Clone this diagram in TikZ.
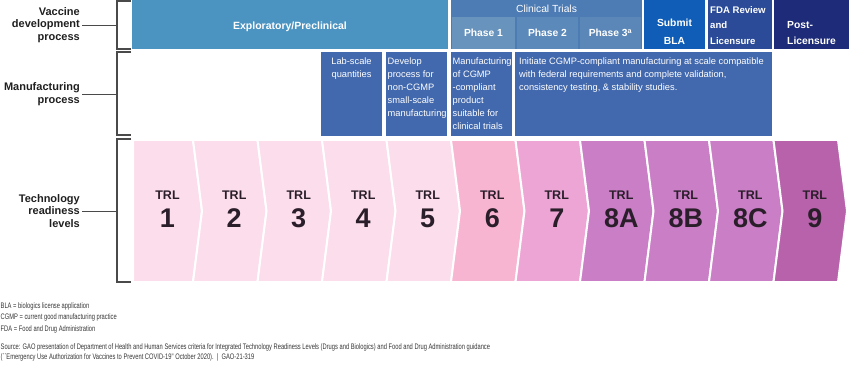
\documentclass[tikz,border=0pt]{standalone}
\usepackage{fontspec}
\setmainfont{Liberation Sans}
\newfontfamily\condfont[FakeStretch=0.72]{Liberation Sans}
\definecolor{labgray}{HTML}{1F1F1F}
\definecolor{brgray}{HTML}{4A4A4A}
\definecolor{explo}{HTML}{4B93C1}
\definecolor{clin}{HTML}{4D7BB3}
\definecolor{ph1}{HTML}{6893BC}
\definecolor{ph2}{HTML}{5B89BA}
\definecolor{ph3}{HTML}{5A87B7}
\definecolor{bla}{HTML}{0F5DB6}
\definecolor{fda}{HTML}{2B4A97}
\definecolor{post}{HTML}{1D2B78}
\definecolor{mfg}{HTML}{4268AD}
\definecolor{ca}{HTML}{FCDDEB}
\definecolor{cb}{HTML}{F8B5D2}
\definecolor{cc}{HTML}{EDA5D5}
\definecolor{cd}{HTML}{C97EC6}
\definecolor{ce}{HTML}{B862AC}
\definecolor{trltext}{HTML}{2A1E2A}
\definecolor{foot}{HTML}{363636}
\begin{document}
\begin{tikzpicture}[x=1pt,y=-1pt,
  rowlabel/.style={font=\bfseries\fontsize{11}{12.8}\selectfont, align=right, anchor=east, inner xsep=2pt, inner ysep=0pt, text=labgray},
  bracket/.style={draw=brgray, line width=1.1pt},
  conn/.style={draw=brgray, line width=0.9pt},
  hbox/.style={anchor=north west, inner sep=0pt, outer sep=0pt, draw=none},
  htext/.style={font=\bfseries\fontsize{10.3}{13}\selectfont, text=white, inner sep=0pt},
  mtext/.style={font=\fontsize{9.3}{13}\selectfont, text=white, inner sep=0pt, anchor=north west, align=left},
  trlsmall/.style={font=\bfseries\fontsize{12.5}{14}\selectfont, text=trltext, inner sep=0pt},
  trlbig/.style={font=\bfseries\fontsize{27}{30}\selectfont, text=trltext, inner sep=0pt},
  foottext/.style={font=\condfont\fontsize{8}{10}\selectfont, text=foot, inner sep=0pt, anchor=base west},
  chev/.style={draw=white, line width=2pt, line join=miter}
]
\useasboundingbox (0,0) rectangle (850,366);

% ---------- row labels and brackets ----------
\node[rowlabel] (vlab) at (82,25) {Vaccine\\development\\process};
\node[rowlabel] (mlab) at (82,94) {Manufacturing\\process};
\node[rowlabel] (tlab) at (82,211) {Technology\\readiness\\levels};
\coordinate (vbr) at (117,25);
\coordinate (mbr) at (117,94);
\coordinate (tbr) at (117,211);
\draw[conn] (vlab.east) -- (vbr);
\draw[conn] (mlab.east) -- (mbr);
\draw[conn] (tlab.east) -- (tbr);
\draw[bracket] (131,1) -- (117,1) -- (117,49) -- (131,49);
\draw[bracket] (131,52) -- (117,52) -- (117,135) -- (131,135);
\draw[bracket] (131,139) -- (117,139) -- (117,282) -- (131,282);

% ---------- vaccine development row ----------
\node[hbox, fill=explo, minimum width=316pt, minimum height=49pt] (explo) at (132,0) {};
\node[htext, font=\bfseries\fontsize{10.5}{13}\selectfont] (explot) at (290,27) {Exploratory/Preclinical};

\node[hbox, fill=clin, minimum width=191pt, minimum height=49pt] (clin) at (451,0) {};
\node[text=white, inner sep=0pt, font=\fontsize{10.3}{12}\selectfont] (clint) at (546.5,8.5) {Clinical Trials};
\node[hbox, fill=ph1, minimum width=63pt, minimum height=32pt] (ph1) at (452,17) {};
\node[hbox, fill=ph2, minimum width=61pt, minimum height=32pt] (ph2) at (517,17) {};
\node[hbox, fill=ph3, minimum width=61pt, minimum height=32pt] (ph3) at (580,17) {};
\node[htext] (ph1t) at (ph1.center) {Phase 1};
\node[htext] (ph2t) at (ph2.center) {Phase 2};
\node[htext] (ph3t) at (ph3.center) {Phase 3\textsuperscript{a}};

\node[hbox, fill=bla, minimum width=61pt, minimum height=49pt] (bla) at (644,0) {};
\node[htext, align=center, font=\bfseries\fontsize{10.3}{18}\selectfont] (blat) at (674.5,32) {Submit\\BLA};
\node[hbox, fill=fda, minimum width=64pt, minimum height=49pt] (fda) at (708,0) {};
\node[htext, align=left, anchor=west, font=\bfseries\fontsize{9.6}{15.5}\selectfont] (fdat) at (710,25.5) {FDA Review\\and\\Licensure};
\node[hbox, fill=post, minimum width=75pt, minimum height=49pt] (post) at (774,0) {};
\node[htext, align=left, anchor=west, font=\bfseries\fontsize{10.3}{16}\selectfont] (postt) at (787,33) {Post-\\Licensure};

% ---------- manufacturing row ----------
\node[hbox, fill=mfg, minimum width=61pt, minimum height=84pt] (lab) at (321,52) {};
\node[hbox, fill=mfg, minimum width=61pt, minimum height=84pt] (dev) at (386,52) {};
\node[hbox, fill=mfg, minimum width=61pt, minimum height=84pt] (cgmp) at (451,52) {};
\node[hbox, fill=mfg, minimum width=257pt, minimum height=84pt] (init) at (515,52) {};
\node[mtext, anchor=north, align=center] (labt) at (351.5,58) {Lab-scale\\quantities};
\node[mtext] (devt) at (387.5,58) {Develop\\process for\\non-CGMP\\small-scale\\manufacturing};
\node[mtext] (cgmpt) at (452.5,58) {Manufacturing\\of CGMP\\-compliant\\product\\suitable for\\clinical trials};
\node[mtext] (initt) at (519,58) {Initiate CGMP-compliant manufacturing at scale compatible\\with federal requirements and complete validation,\\consistency testing, \& stability studies.};

% ---------- TRL chevrons ----------
\foreach \i/\col/\lab in {1/ca/1,2/ca/2,3/ca/3,4/ca/4,5/ca/5,6/cb/6,7/cc/7,8/cd/8A,9/cd/8B,10/cd/8C,11/ce/9}{
  \pgfmathsetmacro\R{193+64.5*(\i-1)}
  \pgfmathsetmacro\L{193+64.5*(\i-2)}
  \ifnum\i=1
    \path[chev, fill=\col] (133,140) -- (\R,140) -- (\R+9,211) -- (\R,282) -- (133,282) -- cycle;
    \pgfmathsetmacro\C{167.5}
  \else
    \path[chev, fill=\col] (\L,140) -- (\R,140) -- (\R+9,211) -- (\R,282) -- (\L,282) -- (\L+9,211) -- cycle;
    \pgfmathsetmacro\C{(\L+\R)/2+9}
  \fi
  \node[trlsmall] (trl\i) at (\C,195) {TRL};
  \node[trlbig] (num\i) at (\C,218.5) {\lab};
}

% ---------- footnotes ----------
\node[foottext] (fn1) at (0.5,308) {BLA = biologics license application};
\node[foottext] (fn2) at (0.5,319.5) {CGMP = current good manufacturing practice};
\node[foottext] (fn3) at (0.5,331) {FDA = Food and Drug Administration};
\node[foottext] (src1) at (0.5,349.5) {Source: GAO presentation of Department of Health and Human Services criteria for Integrated Technology Readiness Levels (Drugs and Biologics) and Food and Drug Administration guidance};
\node[foottext] (src2) at (0.5,359.5) {(``Emergency Use Authorization for Vaccines to Prevent COVID-19'' October 2020).~~|~~GAO-21-319};
\end{tikzpicture}
\end{document}
